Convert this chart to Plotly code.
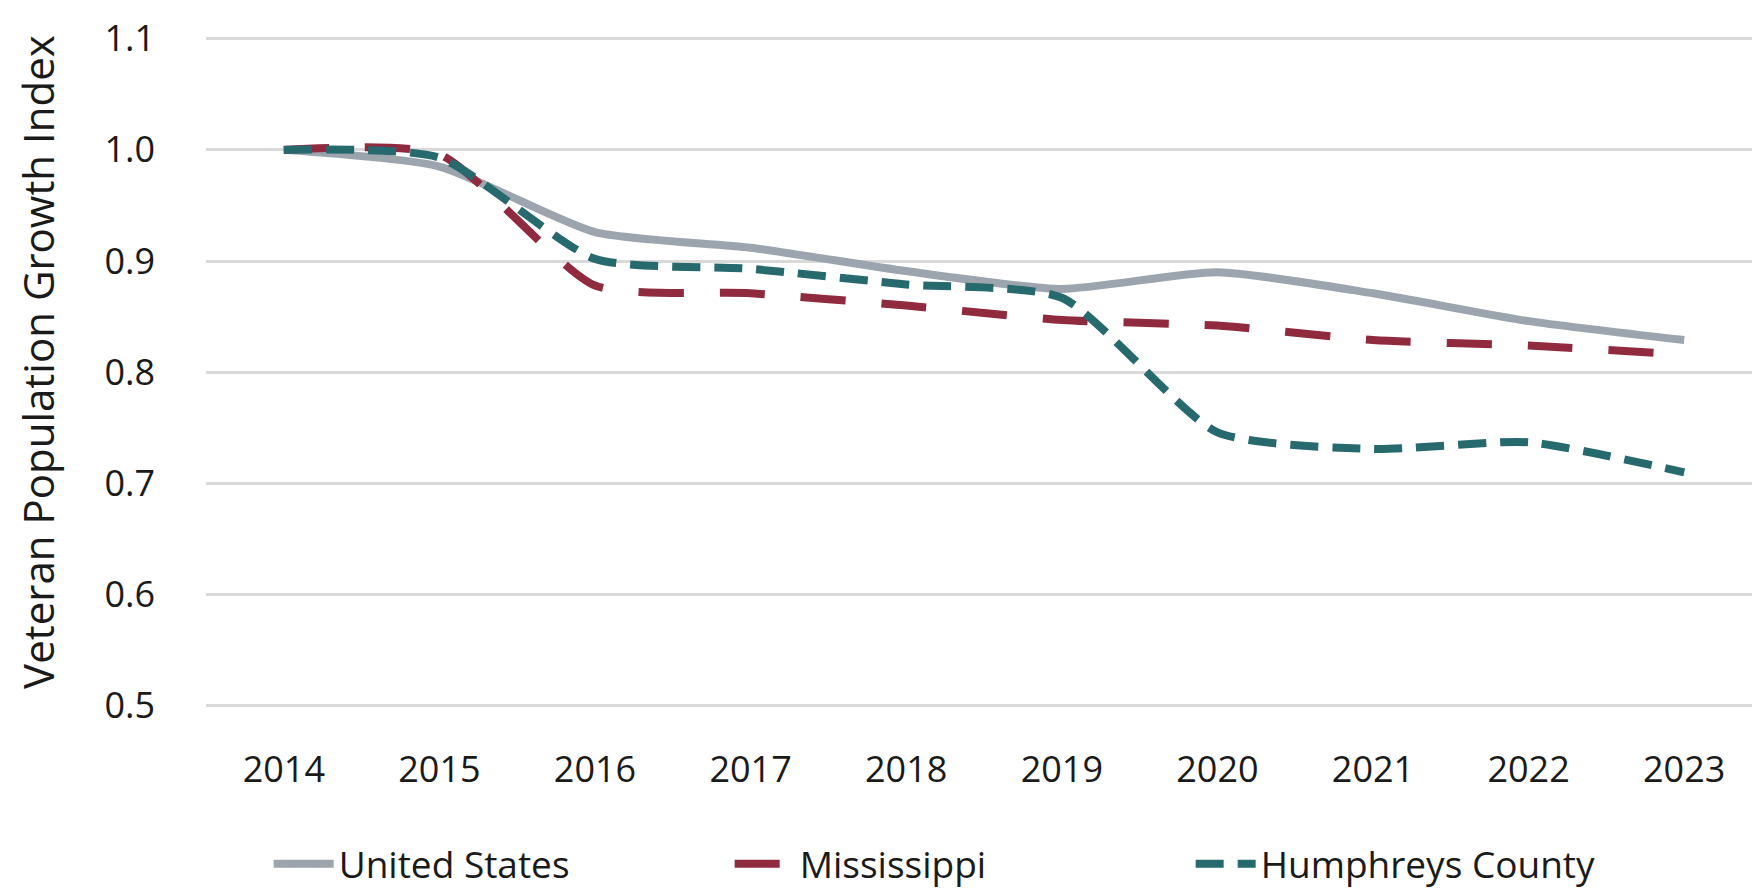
import plotly.graph_objects as go

years = ["2014", "2015", "2016", "2017", "2018", "2019", "2020", "2021", "2022", "2023"]
us = [1.000, 0.985, 0.926, 0.912, 0.891, 0.875, 0.890, 0.871, 0.846, 0.829]
mississippi = [1.000, 0.996, 0.878, 0.871, 0.860, 0.847, 0.842, 0.829, 0.824, 0.816]
humphreys = [1.000, 0.993, 0.902, 0.893, 0.879, 0.867, 0.746, 0.731, 0.737, 0.710]
y_ticks = [0.5, 0.6, 0.7, 0.8, 0.9, 1.0, 1.1]

FONT = "Open Sans, Lato, sans-serif"
TXT = "#1a1a1a"

fig = go.Figure()
fig.add_trace(go.Scatter(x=years, y=us, name="United States", mode="lines",
                         line=dict(color="#9ca5ae", width=8, shape="spline", smoothing=0.6)))
fig.add_trace(go.Scatter(x=years, y=mississippi, name="Mississippi", mode="lines",
                         line=dict(color="#8f2a3f", width=8, dash="45px,36px", shape="spline", smoothing=0.6)))
fig.add_trace(go.Scatter(x=years, y=humphreys, name="Humphreys County", mode="lines",
                         line=dict(color="#266a6e", width=8, dash="28px,14px", shape="spline", smoothing=0.6)))

fig.update_layout(
    width=1760, height=889,
    margin=dict(l=198, r=6, t=29, b=190, autoexpand=False),
    plot_bgcolor="white", paper_bgcolor="white",
    font=dict(family=FONT, size=36, color=TXT),
    showlegend=True,
    legend=dict(orientation="h", xref="container", yref="container",
                x=0.541, xanchor="center", y=0.037, yanchor="middle",
                font=dict(family=FONT, size=37, color=TXT),
                entrywidth=386, entrywidthmode="pixels",
                itemwidth=60, tracegroupgap=0),
    xaxis=dict(type="category", range=[-0.5, 9.5], showgrid=False, zeroline=False,
               showline=False, ticks="", automargin=False,
               tickfont=dict(family=FONT, size=36, color=TXT),
               ticklabelstandoff=38),
    yaxis=dict(range=[0.499, 1.1015], tickvals=y_ticks, tickformat=".1f",
               showgrid=True, gridcolor="#d9d9d9", gridwidth=3,
               zeroline=False, showline=False, ticks="", automargin=False,
               tickfont=dict(family=FONT, size=36, color=TXT),
               ticklabelstandoff=50),
    annotations=[dict(text="Veteran Population Growth Index", textangle=-90,
                      xref="paper", yref="paper", x=-0.108, y=0.515,
                      xanchor="center", yanchor="middle", showarrow=False,
                      font=dict(family=FONT, size=42, color=TXT))],
)

fig.write_html("out.html")
